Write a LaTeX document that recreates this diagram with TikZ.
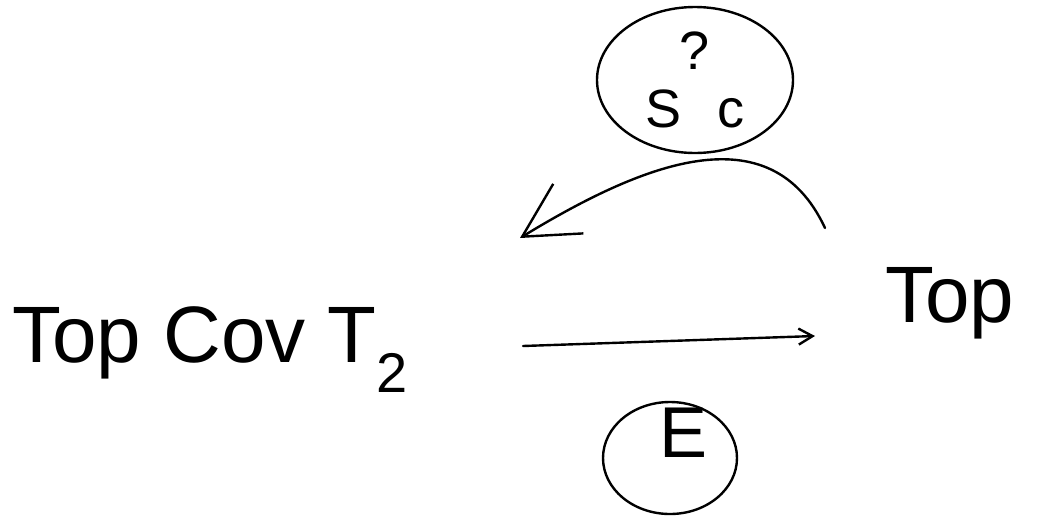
\documentclass[tikz,border=0pt]{standalone}
\usepackage{fontspec}
\setmainfont{Liberation Sans}
\usetikzlibrary{shapes.geometric,arrows.meta}
\begin{document}
\begin{tikzpicture}[x=1pt,y=-1pt,
  hand/.style={line width=2.4pt, line cap=round, line join=round},
  bubble/.style={hand, draw, ellipse, inner sep=0pt},
  big/.style={font=\fontsize{80}{80}\selectfont},
  arr/.style={hand, -{Straight Barb[length=14pt,width=16pt]}},
  bigarr/.style={hand, -{Straight Barb[length=54pt,width=58pt]}}]
\useasboundingbox (0,0) rectangle (1061,515);
\node[big, anchor=base west, inner sep=0pt] (L) at (12,362) {Top Cov T\textsubscript{2}};
\node[big, anchor=base west, inner sep=0pt] (R) at (885,322) {Top};
\node[bubble, minimum width=196pt, minimum height=146pt, align=center,
      font=\fontsize{54}{58}\selectfont] (S) at (695,80) {?\\S\hspace{36pt}c};
\node[bubble, minimum width=134pt, minimum height=112pt] (E) at (670,458) {};
\node[font=\fontsize{72}{72}\selectfont, inner sep=0pt] (Et) at (684,433) {E};
\coordinate (m1) at (523,346);
\coordinate (m2) at (815,336);
\draw[arr] (m1) -- (m2);
\coordinate (c1) at (825,228);
\coordinate (c2) at (520,238);
\draw[bigarr] (c1) .. controls (770,110) and (640,165) .. (c2);
\end{tikzpicture}
\end{document}
